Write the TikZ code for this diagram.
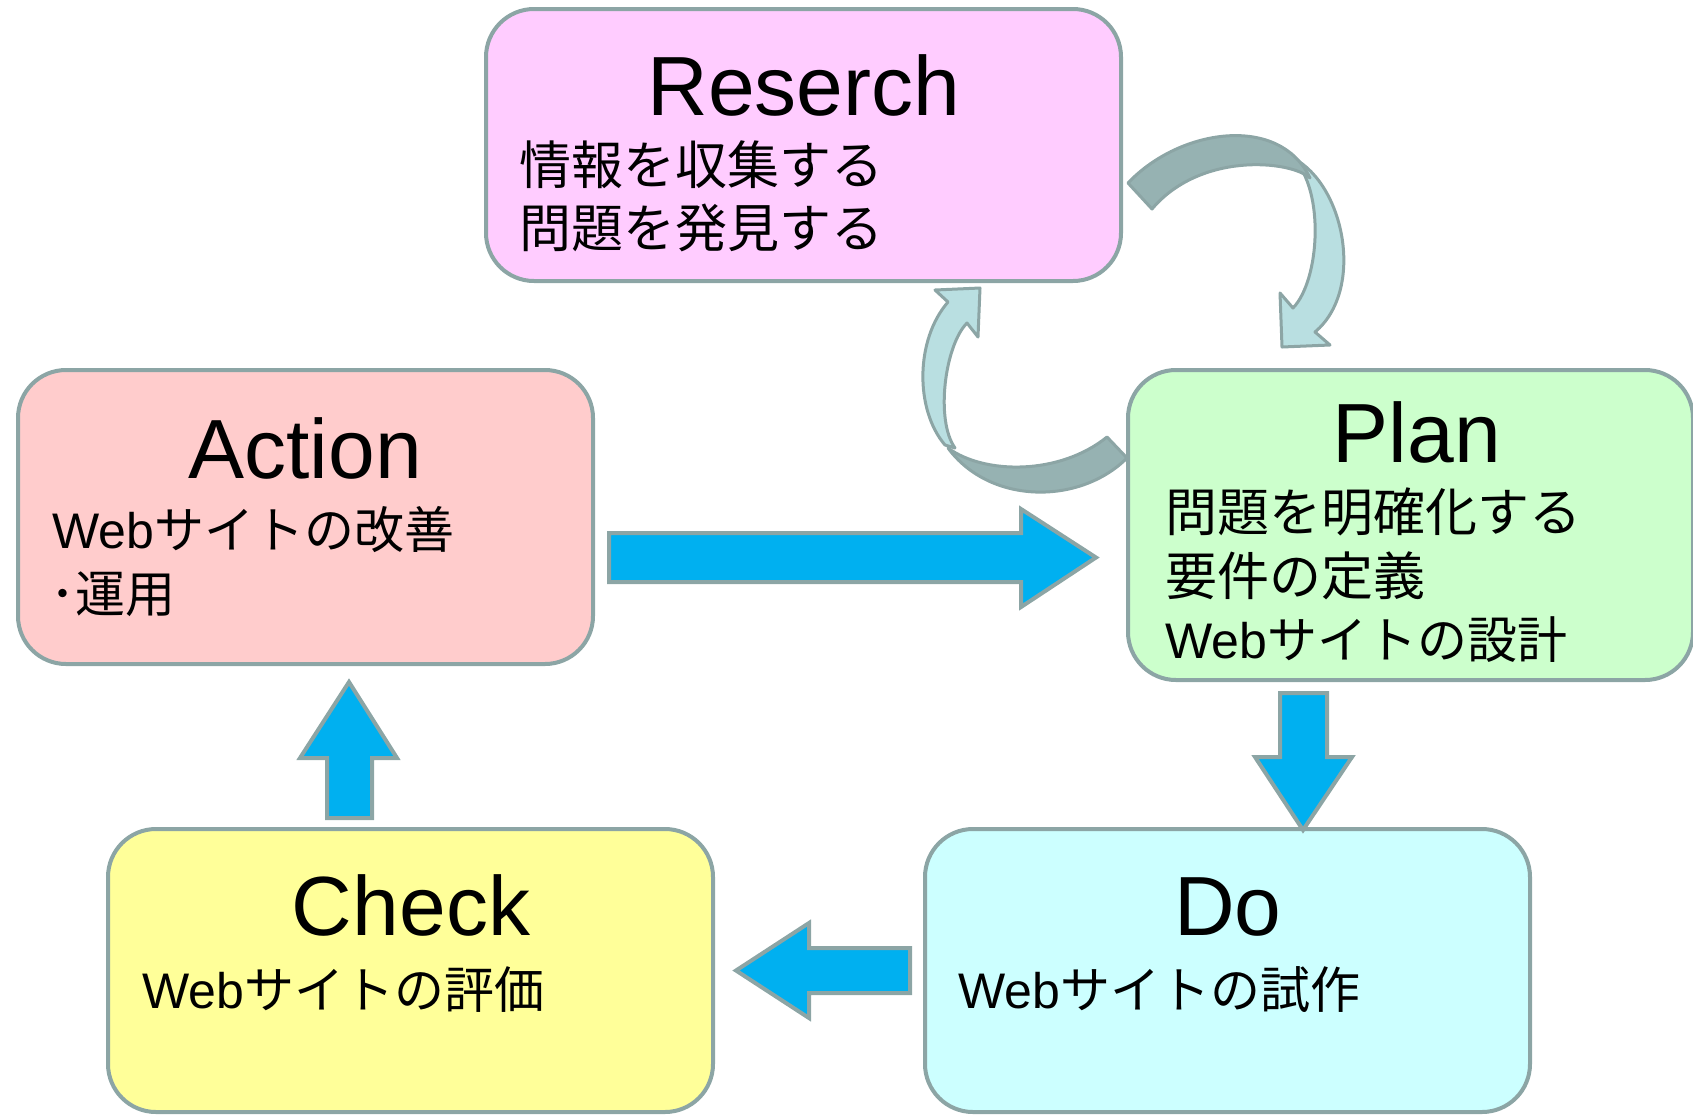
\documentclass[tikz,border=0pt]{standalone}
\usepackage{fontspec}
\setmainfont{Liberation Sans}
\newfontfamily\jp{Noto Sans CJK JP}
\definecolor{bordergray}{RGB}{140,165,165}
\definecolor{pinkfill}{RGB}{255,204,255}
\definecolor{salmonfill}{RGB}{255,204,204}
\definecolor{greenfill}{RGB}{204,255,204}
\definecolor{cyanfill}{RGB}{204,255,255}
\definecolor{yellowfill}{RGB}{255,255,153}
\definecolor{arrowblue}{RGB}{0,176,240}
\definecolor{ribbondark}{RGB}{150,178,178}
\definecolor{ribbonlight}{RGB}{185,223,225}
\tikzset{
  box/.style={draw=bordergray, line width=2pt, rounded corners=24pt, inner sep=0pt},
  title/.style={anchor=base, inner sep=0pt, font=\fontsize{42}{50}\selectfont},
  body/.style={anchor=base west, inner sep=0pt, font=\fontsize{25}{30}\selectfont},
  bodyjp/.style={anchor=base west, inner sep=0pt, font=\fontsize{26}{30}\selectfont\jp},
  blockarrow/.style={draw=bordergray, fill=arrowblue, line width=2pt, line join=miter},
  ribbon/.style={draw=bordergray, line width=1.5pt, line join=round},
}
\begin{document}
\begin{tikzpicture}[x=0.5pt,y=-0.5pt]
\useasboundingbox (0,0) rectangle (1693,1115);
% boxes
\node[box, fill=pinkfill, minimum width=317.5pt, minimum height=136pt] (res) at (803.5,145) {};
\node[box, fill=salmonfill, minimum width=287.5pt, minimum height=147pt] (act) at (305.5,517) {};
\node[box, fill=greenfill, minimum width=282.5pt, minimum height=155pt] (plan) at (1410.5,525) {};
\node[box, fill=cyanfill, minimum width=302.5pt, minimum height=141.5pt] (do) at (1227.5,970.5) {};
\node[box, fill=yellowfill, minimum width=302.5pt, minimum height=141.5pt] (chk) at (410.5,970.5) {};
% texts
\node[title] (resT) at (804,115.5) {Reserch};
\node[bodyjp] (res1) at (519,184) {情報を収集する};
\node[bodyjp] (res2) at (519,247) {問題を発見する};
\node[title] (actT) at (305,478) {Action};
\node[body] (act1) at (52,548) {Web{\jp サイトの改善}};
\node[body] (act2) at (50,612) {{\jp ･運用}};
\node[title] (planT) at (1417,462) {Plan};
\node[bodyjp] (plan1) at (1165,531) {問題を明確化する};
\node[bodyjp] (plan2) at (1165,595) {要件の定義};
\node[body] (plan3) at (1165,658) {Web{\jp サイトの設計}};
\node[title] (doT) at (1228,935) {Do};
\node[body] (do1) at (958,1008) {Web{\jp サイトの試作}};
\node[title] (chkT) at (411,935) {Check};
\node[body] (chk1) at (142,1008) {Web{\jp サイトの評価}};
% block arrows
\draw[blockarrow] (609,533) -- (1021,533) -- (1021,509) -- (1096,557.5) -- (1021,607) -- (1021,582) -- (609,582) -- cycle;
\draw[blockarrow] (1280,693) -- (1327,693) -- (1327,757) -- (1352,757) -- (1303,830) -- (1255,757) -- (1280,757) -- cycle;
\draw[blockarrow] (910,948) -- (910,993) -- (809,993) -- (809,1018) -- (736,970.5) -- (809,923) -- (809,948) -- cycle;
\draw[blockarrow] (327,818) -- (372,818) -- (372,758) -- (397,758) -- (349,682) -- (300,758) -- (327,758) -- cycle;
% curved ribbon arrow Reserch -> Plan
\draw[ribbon, fill=ribbonlight] (1293,158) .. controls (1345,185) and (1365,290) .. (1315,332) -- (1330,345) -- (1282,347) -- (1280,293) -- (1293,308) .. controls (1320,280) and (1325,190) .. (1293,158) -- cycle;
\draw[ribbon, fill=ribbondark] (1128,183) .. controls (1180,128) and (1280,114) .. (1310,178) .. controls (1290,160) and (1200,152) .. (1152,209) -- cycle;
% curved ribbon arrow Plan -> Reserch
\draw[ribbon, fill=ribbonlight] (945,445) .. controls (915,410) and (915,340) .. (948,302) -- (935,290) -- (980,288) -- (978,337) -- (967,323) .. controls (945,345) and (935,420) .. (955,448) -- cycle;
\draw[ribbon, fill=ribbondark] (1127,458) .. controls (1080,505) and (990,505) .. (948,448) .. controls (985,475) and (1060,475) .. (1107,437) -- cycle;
\end{tikzpicture}
\end{document}
